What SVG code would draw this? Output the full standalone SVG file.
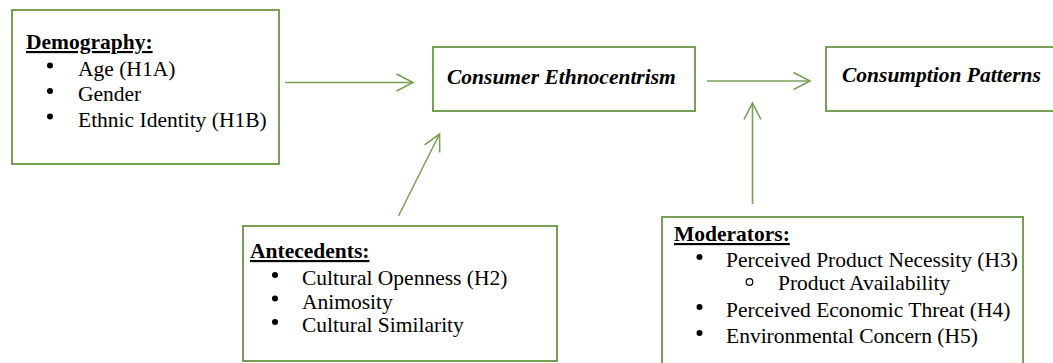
<svg xmlns="http://www.w3.org/2000/svg" width="1053" height="363" viewBox="0 0 1053 363">
<style>
.box{fill:#ffffff;stroke:#78a055;stroke-width:2}
.conn{fill:none;stroke:#78a055;stroke-width:1.6}
.t{font-family:"Liberation Serif","Times New Roman",serif;font-size:21.5px;fill:#000}
.h{font-weight:bold;text-decoration:underline}
.bi{font-weight:bold;font-style:italic}
.dot{fill:#000}
.ring{fill:none;stroke:#000;stroke-width:1.2}
</style>
<defs>
<marker id="arr" markerUnits="userSpaceOnUse" markerWidth="24" markerHeight="24" viewBox="-20 -12 24 24" refX="0" refY="0" orient="auto">
<path d="M-16.5,-8.5 L0,0 L-16.5,8.5" fill="none" stroke="#78a055" stroke-width="1.6"/>
</marker>
</defs>
<rect width="1053" height="363" fill="#ffffff"/>
<g id="connectors">
<line class="conn" x1="285" y1="82.5" x2="413" y2="82.5" marker-end="url(#arr)"/>
<line class="conn" x1="707" y1="81" x2="810" y2="81" marker-end="url(#arr)"/>
<line class="conn" x1="398.5" y1="216" x2="439.5" y2="134" marker-end="url(#arr)"/>
<line class="conn" x1="752.5" y1="204" x2="752.5" y2="103" marker-end="url(#arr)"/>
</g>
<g id="demography">
<rect class="box" x="12" y="10" width="267" height="154"/>
<text class="t h" x="26" y="49">Demography:</text>
<circle class="dot" cx="50" cy="65.5" r="3"/>
<text class="t" x="78" y="75.5">Age (H1A)</text>
<circle class="dot" cx="50" cy="91" r="3"/>
<text class="t" x="78" y="101">Gender</text>
<circle class="dot" cx="50" cy="116.5" r="3"/>
<text class="t" x="78" y="126.5">Ethnic Identity (H1B)</text>
</g>
<g id="consumer-ethnocentrism">
<rect class="box" x="433" y="47" width="262" height="64"/>
<text class="t bi" x="447" y="84">Consumer Ethnocentrism</text>
</g>
<g id="consumption-patterns">
<rect class="box" x="826" y="47" width="240" height="64"/>
<text class="t bi" x="842" y="81.5">Consumption Patterns</text>
</g>
<g id="antecedents">
<rect class="box" x="243" y="226" width="314" height="135"/>
<text class="t h" x="250" y="258">Antecedents:</text>
<circle class="dot" cx="275" cy="275" r="3"/>
<text class="t" x="302" y="285">Cultural Openness (H2)</text>
<circle class="dot" cx="275" cy="298.5" r="3"/>
<text class="t" x="302" y="308.5">Animosity</text>
<circle class="dot" cx="275" cy="322" r="3"/>
<text class="t" x="302" y="332">Cultural Similarity</text>
</g>
<g id="moderators">
<rect class="box" x="662" y="217" width="361" height="150"/>
<text class="t h" x="674" y="241">Moderators:</text>
<circle class="dot" cx="699.5" cy="257" r="3"/>
<text class="t" x="726" y="267">Perceived Product Necessity (H3)</text>
<circle class="ring" cx="749.5" cy="282" r="3.3"/>
<text class="t" x="778" y="290">Product Availability</text>
<circle class="dot" cx="699.5" cy="307" r="3"/>
<text class="t" x="726" y="317">Perceived Economic Threat (H4)</text>
<circle class="dot" cx="699.5" cy="333" r="3"/>
<text class="t" x="726" y="343">Environmental Concern (H5)</text>
</g>
</svg>
